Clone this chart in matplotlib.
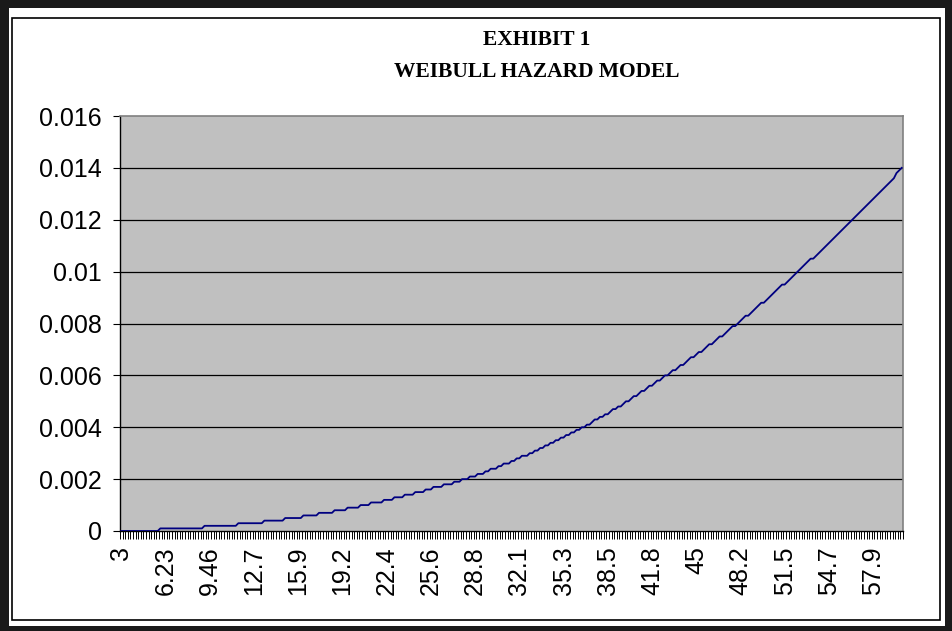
import numpy as np
import matplotlib
matplotlib.use('Agg')
import matplotlib.pyplot as plt
from matplotlib.patches import Rectangle

# hazard values, in units of 0.0001 (one per category)
hazard_e4 = [
    0, 0, 0, 0, 0, 0, 0, 0, 0, 0,
    0, 0, 0, 0, 0, 1, 1, 1, 1, 1,
    1, 1, 1, 1, 1, 1, 1, 1, 1, 1,
    1, 1, 2, 2, 2, 2, 2, 2, 2, 2,
    2, 2, 2, 2, 2, 3, 3, 3, 3, 3,
    3, 3, 3, 3, 3, 4, 4, 4, 4, 4,
    4, 4, 4, 5, 5, 5, 5, 5, 5, 5,
    6, 6, 6, 6, 6, 6, 7, 7, 7, 7,
    7, 7, 8, 8, 8, 8, 8, 9, 9, 9,
    9, 9, 10, 10, 10, 10, 11, 11, 11, 11,
    11, 12, 12, 12, 12, 13, 13, 13, 13, 14,
    14, 14, 14, 15, 15, 15, 15, 16, 16, 16,
    17, 17, 17, 17, 18, 18, 18, 18, 19, 19,
    19, 20, 20, 20, 21, 21, 21, 22, 22, 22,
    23, 23, 24, 24, 24, 25, 25, 26, 26, 26,
    27, 27, 28, 28, 29, 29, 29, 30, 30, 31,
    31, 32, 32, 33, 33, 34, 34, 35, 35, 36,
    36, 37, 37, 38, 38, 39, 39, 40, 40, 41,
    41, 42, 43, 43, 44, 44, 45, 45, 46, 47,
    47, 48, 48, 49, 50, 50, 51, 52, 52, 53,
    54, 54, 55, 56, 56, 57, 58, 58, 59, 60,
    60, 61, 62, 62, 63, 64, 64, 65, 66, 67,
    67, 68, 69, 69, 70, 71, 72, 72, 73, 74,
    75, 75, 76, 77, 78, 79, 79, 80, 81, 82,
    83, 83, 84, 85, 86, 87, 88, 88, 89, 90,
    91, 92, 93, 94, 95, 95, 96, 97, 98, 99,
    100, 101, 102, 103, 104, 105, 105, 106, 107, 108,
    109, 110, 111, 112, 113, 114, 115, 116, 117, 118,
    119, 120, 121, 122, 123, 124, 125, 126, 127, 128,
    129, 130, 131, 132, 133, 134, 135, 136, 138, 139,
    140,
]
x_tick_labels = ['3', '6.23', '9.46', '12.7', '15.9', '19.2', '22.4', '25.6', '28.8',
                 '32.1', '35.3', '38.5', '41.8', '45', '48.2', '51.5', '54.7', '57.9']
label_every = 17
y_ticks = [0, 0.002, 0.004, 0.006, 0.008, 0.01, 0.012, 0.014, 0.016]
y_tick_labels = ['0', '0.002', '0.004', '0.006', '0.008', '0.01', '0.012', '0.014', '0.016']
title_lines = ['EXHIBIT 1', 'WEIBULL HAZARD MODEL']

W, H = 953, 631
hazard = np.array(hazard_e4) / 10000.0
cat = np.arange(len(hazard))

plt.rcParams['font.family'] = ['Liberation Sans', 'DejaVu Sans']
fig = plt.figure(figsize=(W / 100, H / 100), dpi=100)
fig.patch.set_facecolor('white')

def px(x, y):
    return x / W, 1 - y / H

# outer dark frame and inner thin border
fig.add_artist(Rectangle((0, 0), 1, 1, transform=fig.transFigure, facecolor='#1a1a1a', edgecolor='none', zorder=0))
x0, y0 = px(9, 626)
x1, y1 = px(945, 8)
fig.add_artist(Rectangle((x0, y0), x1 - x0, y1 - y0, transform=fig.transFigure, facecolor='white', edgecolor='none', zorder=0))
x0, y0 = px(12, 620)
x1, y1 = px(940, 18)
fig.add_artist(Rectangle((x0, y0), x1 - x0, y1 - y0, transform=fig.transFigure, facecolor='none', edgecolor='black', lw=1.2, zorder=1))

left, bottom = px(120, 531)
right, top = px(903, 116)
ax = fig.add_axes([left, bottom, right - left, top - bottom])
ax.set_facecolor('#c0c0c0')

for yv in y_ticks[1:-1]:
    ax.axhline(yv, color='black', lw=0.9, zorder=1)

ax.plot(cat, hazard, color='#000080', lw=1.3, zorder=3)

ax.set_xlim(-0.5, len(hazard) - 0.5)
ax.set_ylim(0, 0.016)

ax.set_yticks(y_ticks)
ax.set_yticklabels(y_tick_labels, fontsize=18)
ax.tick_params(axis='y', direction='out', length=5, width=0.8, pad=8)

ax.set_xticks(np.arange(len(x_tick_labels)) * label_every)
ax.set_xticklabels(x_tick_labels, rotation=90, fontsize=18, va='top', ha='center')
ax.set_xticks(np.arange(len(hazard) + 1) - 0.5, minor=True)
ax.tick_params(axis='x', which='major', length=0, pad=11)
ax.tick_params(axis='x', which='minor', direction='out', length=6, width=0.7)

for side in ['left', 'bottom']:
    ax.spines[side].set_color('black')
    ax.spines[side].set_linewidth(1.0)
for side in ['top', 'right']:
    ax.spines[side].set_color('#808080')
    ax.spines[side].set_linewidth(1.2)

tx, _ = px(537, 0)
fig.text(tx, px(0, 40)[1], title_lines[0], family=['Liberation Serif', 'DejaVu Serif'],
         fontsize=15.5, fontweight='bold', ha='center', va='center')
fig.text(tx, px(0, 72)[1], title_lines[1], family=['Liberation Serif', 'DejaVu Serif'],
         fontsize=15.5, fontweight='bold', ha='center', va='center')

fig.savefig('out.png', dpi=100)
